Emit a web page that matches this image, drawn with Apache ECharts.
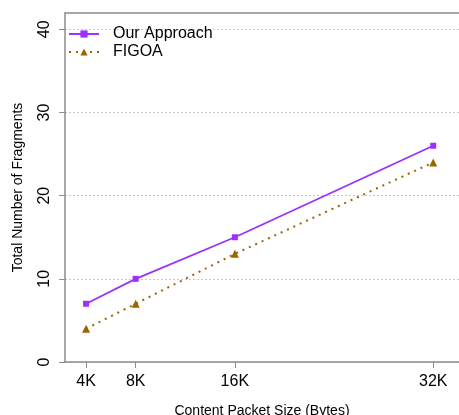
<!DOCTYPE html>
<html>
<head>
<meta charset="utf-8">
<script src="https://cdn.jsdelivr.net/npm/echarts@6/dist/echarts.min.js"></script>
<style>
  html, body { margin: 0; padding: 0; background: #fff; }
  #chart { width: 459px; height: 415px; }
</style>
</head>
<body>
<div id="chart"></div>
<script>
// Packet sizes in KB and fragment counts per approach
const packetSizes = [4, 8, 16, 32];
const ourApproach = [7, 10, 15, 26];
const figoa = [4, 7, 13, 24];
const yTicks = [0, 10, 20, 30, 40];

const seriesNames = ['Our Approach', 'FIGOA'];
const FONT = '"Liberation Sans", Arial, sans-serif';
const AXIS_GRAY = '#8c8c8c';

const pairs = (xs, ys) => xs.map((x, i) => [x, ys[i]]);

const chart = echarts.init(document.getElementById('chart'));
chart.setOption({
  animation: false,
  grid: { left: 65, right: 0, top: 13, bottom: 53, outerBoundsMode: 'none', containLabel: false },
  legend: {
    left: 63, top: 21, orient: 'vertical', itemGap: 2,
    itemWidth: 30, itemHeight: 9,
    textStyle: { fontFamily: FONT, fontSize: 16, color: '#000', padding: [0, 0, 0, 9] },
    data: seriesNames
  },
  xAxis: [{
    type: 'value', min: 2.3, max: 34.08,
    name: 'Content Packet Size (Bytes)', nameLocation: 'middle', nameGap: 42,
    nameTextStyle: { fontFamily: FONT, fontSize: 14, color: '#000' },
    axisLine: { show: true, lineStyle: { color: AXIS_GRAY, width: 1.5 } },
    axisTick: { show: true, length: 6, customValues: packetSizes, lineStyle: { color: AXIS_GRAY } },
    axisLabel: { customValues: packetSizes, formatter: v => v + 'K', fontFamily: FONT, fontSize: 16, color: '#000', margin: 12 },
    splitLine: { show: false }
  }, {
    type: 'value', position: 'top', min: 2.3, max: 34.08,
    axisLine: { show: true, onZero: false, lineStyle: { color: AXIS_GRAY, width: 1.5 } },
    axisTick: { show: false }, axisLabel: { show: false }, splitLine: { show: false }
  }],
  yAxis: {
    type: 'value', min: 0, max: 41.96,
    name: 'Total Number of Fragments', nameLocation: 'middle', nameGap: 40,
    nameTextStyle: { fontFamily: FONT, fontSize: 14, color: '#000' },
    axisLine: { show: true, lineStyle: { color: AXIS_GRAY, width: 1.5 } },
    axisTick: { show: true, length: 6, customValues: yTicks, lineStyle: { color: AXIS_GRAY } },
    axisLabel: { customValues: yTicks, rotate: 90, fontFamily: FONT, fontSize: 16, color: '#000', margin: 12 },
    splitLine: { show: true, lineStyle: { color: '#c8c8c8', type: [2, 2], width: 1 } }
  },
  series: [{
    name: seriesNames[0], type: 'line', data: pairs(packetSizes, ourApproach),
    symbol: 'rect', symbolSize: 6,
    itemStyle: { color: '#9B30FF' },
    lineStyle: { color: '#9B30FF', width: 1.8 }
  }, {
    name: seriesNames[1], type: 'line', data: pairs(packetSizes, figoa),
    symbol: 'triangle', symbolSize: 8,
    itemStyle: { color: '#996600' },
    lineStyle: { color: '#996600', width: 2, type: [2, 5] }
  }]
});
</script>
</body>
</html>
